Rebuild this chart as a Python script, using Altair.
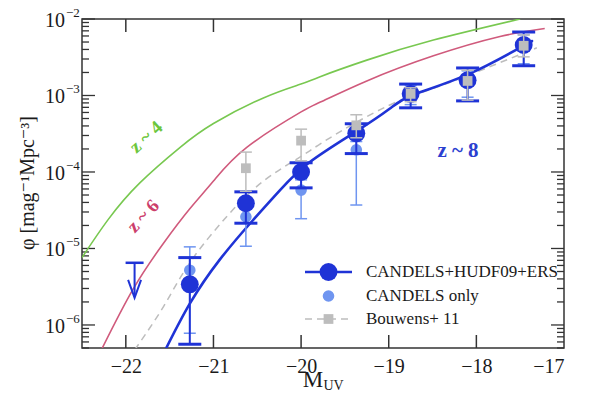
import altair as alt
import pandas as pd

# ---------------- data ----------------
# z~8 binned LF, CANDELS+HUDF09+ERS
m_bins = [-21.27, -20.63, -20.00, -19.37, -18.75, -18.10, -17.46]
phi_all = [3.4e-6, 3.9e-5, 1.0e-4, 3.2e-4, 1.05e-3, 1.58e-3, 4.57e-3]
phi_all_hi = [7.6e-6, 5.5e-5, 1.32e-4, 4.27e-4, 1.41e-3, 2.29e-3, 6.76e-3]
phi_all_lo = [5.6e-7, 2.14e-5, 6.2e-5, 1.74e-4, 6.9e-4, 8.5e-4, 2.45e-3]
# CANDELS only
phi_cand = [5.2e-6, 2.6e-5, 5.8e-5, 1.95e-4, 1.05e-3, 1.58e-3, 4.57e-3]
phi_cand_hi = [1.05e-5, 3.5e-5, 7.9e-5, 2.5e-4, 1.35e-3, 2.1e-3, 6.2e-3]
phi_cand_lo = [7.8e-7, 1.07e-5, 2.45e-5, 3.7e-5, 7.6e-4, 9.5e-4, 2.6e-3]
# Bouwens+ 11
m_b11 = [-20.63, -20.00, -19.37, -18.75, -18.10, -17.46]
phi_b11 = [1.12e-4, 2.57e-4, 4.07e-4, 1.05e-3, 1.55e-3, 4.47e-3]
phi_b11_hi = [1.82e-4, 3.63e-4, 5.6e-4, 1.26e-3, 2.14e-3, 6.2e-3]
phi_b11_lo = [5.6e-5, 1.4e-4, 2.8e-4, 8.3e-4, 8.7e-4, 3.2e-3]
# upper limit (brightest bin)
m_ul = [-21.90]
phi_ul = [6.5e-6]

# LF curves
z4_M = [-22.50, -22.20, -21.84, -21.38, -21.00, -20.43, -20.01, -19.79, -19.25, -18.49, -17.50]
z4_phi = [7.6e-6, 2.4e-5, 7.2e-5, 2.1e-4, 4.3e-4, 9.3e-4, 1.4e-3, 1.75e-3, 2.9e-3, 5.3e-3, 1.0e-2]
z6_M = [-22.28, -21.92, -21.57, -21.27, -21.00, -20.62, -20.00, -19.78, -19.25, -18.49, -17.73, -17.22]
z6_phi = [4.7e-7, 2.9e-6, 1.17e-5, 3.3e-5, 7.6e-5, 2.1e-4, 6.1e-4, 8.2e-4, 1.55e-3, 3.3e-3, 5.9e-3, 7.5e-3]
b11_M = [-21.90, -21.57, -21.27, -20.85, -20.43, -20.00, -19.67, -19.00, -18.40, -17.80, -17.31]
b11_phi = [4.7e-7, 1.74e-6, 6.5e-6, 2.6e-5, 7.6e-5, 1.6e-4, 2.8e-4, 7.4e-4, 1.35e-3, 2.5e-3, 4.2e-3]
z8_M = [-21.55, -21.27, -20.93, -20.55, -20.24, -19.90, -19.37, -18.99, -18.72, -18.09, -17.46, -17.38]
z8_phi = [4.7e-7, 1.9e-6, 7.1e-6, 2.34e-5, 5.8e-5, 1.35e-4, 3.4e-4, 6.7e-4, 1.02e-3, 1.9e-3, 4.5e-3, 5.0e-3]

# axes
x_ticks = [-22, -21, -20, -19, -18, -17]
y_major = [1e-6, 1e-5, 1e-4, 1e-3, 1e-2]
y_exps = ["\u22126", "\u22125", "\u22124", "\u22123", "\u22122"]
y_minor = [5e-7, 6e-7, 7e-7, 8e-7, 9e-7] + [m * 10.0 ** e for e in range(-6, -2) for m in range(2, 10)]

legend_labels = ["CANDELS+HUDF09+ERS", "CANDELS only", "Bouwens+ 11"]

# ---------------- styling ----------------
W, H = 482, 329
FONT = "Liberation Serif, Times New Roman, DejaVu Serif, serif"
DARK = "#1f33d6"
LIGHT = "#6f95f0"
GREY = "#bdbdbd"
GREEN = "#78c850"
PINK = "#d05a7c"
TXT = "#1a1a1a"

xscale = alt.Scale(domain=[-22.5, -17], nice=False, zero=False)
yscale = alt.Scale(type="log", domain=[5e-7, 1e-2], nice=False)
xaxis = alt.Axis(values=x_ticks, ticks=False, domain=False, grid=False, labelFontSize=20,
                 labelFont=FONT, labelColor=TXT, labelPadding=8, title=None, labelOverlap=False)


def xe(f):
    return alt.X(f"{f}:Q", scale=xscale, axis=xaxis)


def ye(f):
    return alt.Y(f"{f}:Q", scale=yscale, axis=None)


one = pd.DataFrame({"k": [0]})
layers = []

# ticks (inward, mirrored)
dfx = pd.DataFrame({"M": x_ticks[:-1]})
layers.append(alt.Chart(dfx).mark_rule(color="#333", strokeWidth=1.5).encode(
    x=xe("M"), y=alt.value(H), y2=alt.value(H - 13)))
layers.append(alt.Chart(dfx).mark_rule(color="#333", strokeWidth=1.5).encode(
    x=xe("M"), y=alt.value(0), y2=alt.value(13)))
dfy = pd.DataFrame({"phi": y_major, "exp": y_exps})
dfym = pd.DataFrame({"phi": y_minor})
for x0, x1, d in [(0, 13, dfy), (W, W - 13, dfy), (0, 7, dfym), (W, W - 7, dfym)]:
    layers.append(alt.Chart(d).mark_rule(color="#333", strokeWidth=1.3).encode(
        y=ye("phi"), x=alt.value(x0), x2=alt.value(x1)))

# y labels 10^n
layers.append(alt.Chart(dfy).mark_text(align="right", baseline="middle", dy=2, fontSize=20,
                                       font=FONT, color=TXT, text="10").encode(
    y=ye("phi"), x=alt.value(-17)))
layers.append(alt.Chart(dfy).mark_text(align="left", baseline="middle", dy=-6, fontSize=13,
                                       font=FONT, color=TXT).encode(
    y=ye("phi"), x=alt.value(-16), text="exp:N"))

# curves
for Ms, ps, col, sw, dash in [(z4_M, z4_phi, GREEN, 1.6, None), (z6_M, z6_phi, PINK, 1.6, None),
                               (b11_M, b11_phi, GREY, 1.5, [7, 5]), (z8_M, z8_phi, DARK, 2.6, None)]:
    kw = dict(color=col, strokeWidth=sw, interpolate="natural", clip=True)
    if dash:
        kw["strokeDash"] = dash
    layers.append(alt.Chart(pd.DataFrame({"M": Ms, "phi": ps})).mark_line(**kw).encode(
        x=xe("M"), y=ye("phi"), order="M:Q"))


def errbars(Ms, lo, hi, col, sw, capw, capsw):
    d = pd.DataFrame({"M": Ms, "lo": lo, "hi": hi})
    bar = alt.Chart(d).mark_rule(color=col, strokeWidth=sw).encode(
        x=xe("M"), y=ye("lo"), y2=alt.Y2("hi:Q"))
    cap = alt.Chart(d).transform_fold(["lo", "hi"]).mark_rule(
        color=col, strokeWidth=capsw, xOffset=-capw / 2, x2Offset=capw / 2).encode(
        x=xe("M"), x2=alt.X2("M:Q"), y=ye("value"))
    return [bar, cap]


# CANDELS only
layers += errbars(m_bins, phi_cand_lo, phi_cand_hi, LIGHT, 1.5, 12, 1.5)
layers.append(alt.Chart(pd.DataFrame({"M": m_bins, "phi": phi_cand})).mark_circle(
    size=135, opacity=1, color=LIGHT).encode(x=xe("M"), y=ye("phi")))
# CANDELS+HUDF09+ERS
layers += errbars(m_bins, phi_all_lo, phi_all_hi, DARK, 2, 23, 3)
layers.append(alt.Chart(pd.DataFrame({"M": m_bins, "phi": phi_all})).mark_circle(
    size=320, opacity=1, color=DARK).encode(x=xe("M"), y=ye("phi")))
# Bouwens+11
layers += errbars(m_b11, phi_b11_lo, phi_b11_hi, GREY, 1.5, 12, 1.5)
layers.append(alt.Chart(pd.DataFrame({"M": m_b11, "phi": phi_b11})).mark_square(
    size=95, opacity=1, color=GREY).encode(x=xe("M"), y=ye("phi")))

# upper limit
dul = pd.DataFrame({"M": m_ul, "phi": phi_ul})
layers.append(alt.Chart(dul).mark_rule(color=DARK, strokeWidth=2.5, xOffset=-9, x2Offset=9).encode(
    x=xe("M"), x2=alt.X2("M:Q"), y=ye("phi")))
layers.append(alt.Chart(dul).mark_rule(color=DARK, strokeWidth=2, y2Offset=34).encode(
    x=xe("M"), y=ye("phi"), y2=alt.Y2("phi:Q")))
layers.append(alt.Chart(dul).mark_point(shape="M-0.72,-1L0,1L0.72,-1", size=324, filled=False,
                                        color=DARK, strokeWidth=2, opacity=1, yOffset=26).encode(
    x=xe("M"), y=ye("phi")))

# annotations
for txt, col, px, py, ang, fs in [("z ~ 4", "#6cc63c", 64, 118, 318, 19),
                                   ("z ~ 6", "#cc3f6c", 61, 197, 313, 19),
                                   ("z ~ 8", "#2b3fd0", 376, 132, 0, 21)]:
    layers.append(alt.Chart(one).mark_text(text=txt, color=col, fontSize=fs, font=FONT,
                                           fontWeight="bold", angle=ang, align="center",
                                           baseline="middle").encode(
        x=alt.value(px), y=alt.value(py)))

# legend
lx0, lx1, lxc, ltx = 223, 270, 246.5, 284
ly = [253, 277, 300]
layers.append(alt.Chart(one).mark_rule(color=DARK, strokeWidth=2.6).encode(
    x=alt.value(lx0), x2=alt.value(lx1), y=alt.value(ly[0])))
layers.append(alt.Chart(one).mark_circle(size=320, opacity=1, color=DARK).encode(
    x=alt.value(lxc), y=alt.value(ly[0])))
layers.append(alt.Chart(one).mark_circle(size=135, opacity=1, color=LIGHT).encode(
    x=alt.value(lxc), y=alt.value(ly[1])))
layers.append(alt.Chart(one).mark_rule(color=GREY, strokeWidth=1.5, strokeDash=[7, 5]).encode(
    x=alt.value(lx0), x2=alt.value(lx1), y=alt.value(ly[2])))
layers.append(alt.Chart(one).mark_square(size=95, opacity=1, color=GREY).encode(
    x=alt.value(lxc), y=alt.value(ly[2])))
for lab, yy in zip(legend_labels, ly):
    layers.append(alt.Chart(one).mark_text(text=lab, fontSize=17, font=FONT, color=TXT,
                                           align="left", baseline="middle").encode(
        x=alt.value(ltx), y=alt.value(yy)))

# axis titles
layers.append(alt.Chart(one).mark_text(text="\u03c6 [mag\u207b\u00b9Mpc\u207b\u00b3]", fontSize=20,
                                       font=FONT, color=TXT, angle=270, align="center",
                                       baseline="middle").encode(
    x=alt.value(-54), y=alt.value(164)))
layers.append(alt.Chart(one).mark_text(text="M", fontSize=23, font=FONT, color=TXT,
                                       align="center", baseline="alphabetic").encode(
    x=alt.value(231), y=alt.value(368)))
layers.append(alt.Chart(one).mark_text(text="UV", fontSize=14, font=FONT, color=TXT,
                                       align="left", baseline="alphabetic").encode(
    x=alt.value(241.5), y=alt.value(370.5)))

chart = alt.layer(*layers).properties(
    width=W, height=H,
    padding={"left": 74, "top": 11, "right": 39, "bottom": 42},
    autosize=alt.AutoSizeParams(type="none"),
).configure_view(stroke="#333", strokeWidth=1.5)

chart.save("out.html", embed_options={"renderer": "svg", "actions": False})
